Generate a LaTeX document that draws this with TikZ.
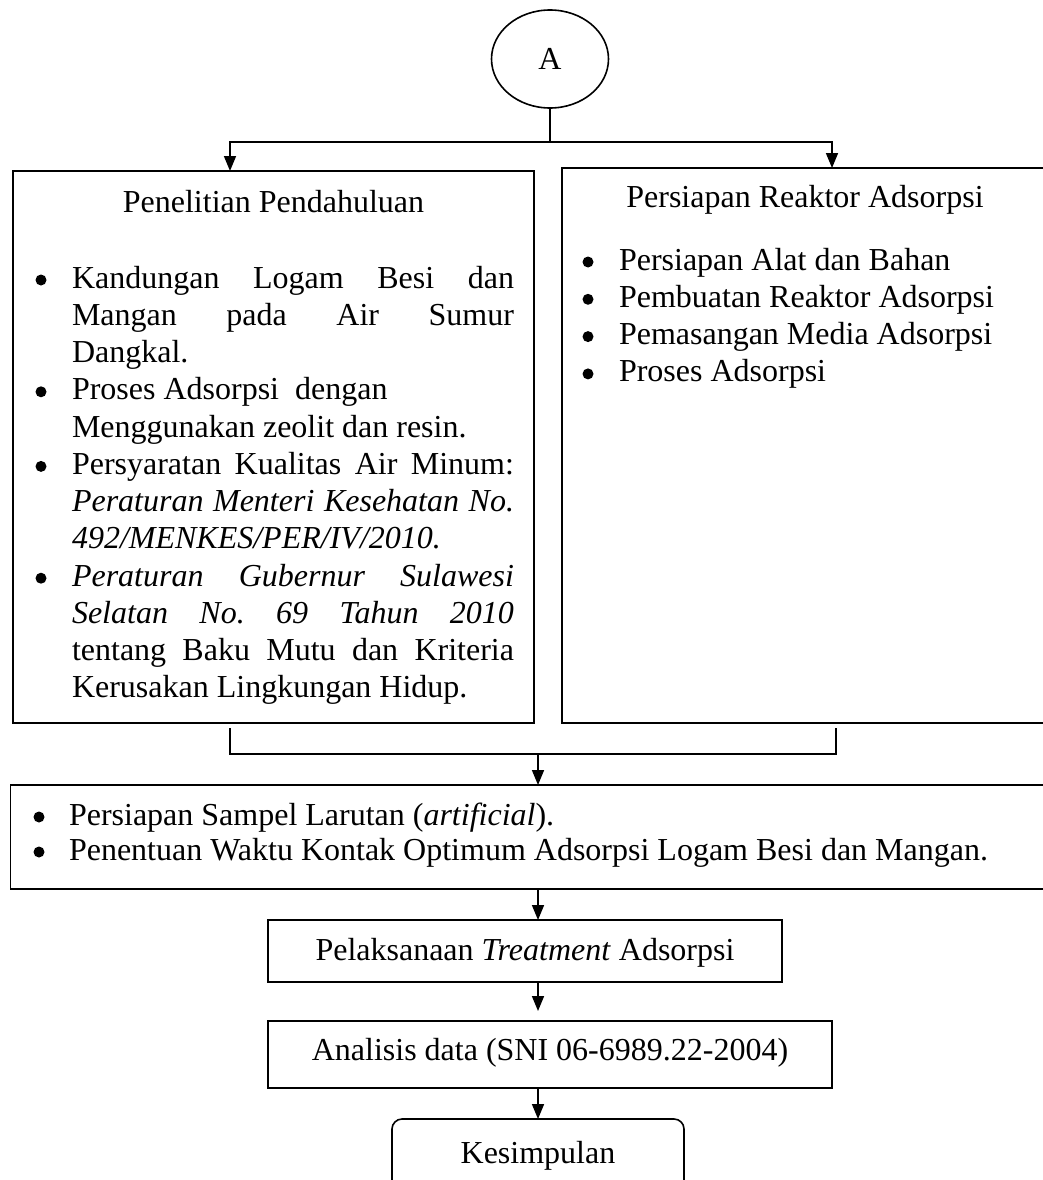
\documentclass[tikz,border=0pt]{standalone}
\usepackage{fontspec}
\setmainfont{Liberation Serif}
\usetikzlibrary{arrows.meta,shapes.geometric}
\newcommand{\jl}[1]{\makebox[442pt][s]{#1}}
\frenchspacing
\begin{document}
\frenchspacing
\begin{tikzpicture}[x=1pt,y=-1pt,
  every node/.style={font=\fontsize{32}{37.27}\selectfont, inner sep=0pt, outer sep=0pt},
  box/.style={draw, rectangle, line width=1.6pt},
  rbox/.style={draw, rectangle, rounded corners=10pt, line width=1.6pt},
  conn/.style={line width=1.6pt},
  arr/.style={line width=1.6pt, -{Triangle[length=15pt,width=12pt]}},
  txt/.style={anchor=base},
  ltxt/.style={anchor=base west},
  dot/.style={circle, fill, minimum size=11pt}
]
\useasboundingbox (0,0) rectangle (1043,1180);
\clip (0,0) rectangle (1043,1180);

% start connector
\node[draw, ellipse, line width=1.6pt, minimum width=117pt, minimum height=98pt] (A) at (550,59) {A};

% boxes
\node[box, minimum width=521pt, minimum height=552pt] (L) at (273.5,447) {};
\node[box, minimum width=490pt, minimum height=555pt] (R) at (807,445.5) {};
\node[box, minimum width=1045pt, minimum height=104pt] (S) at (533,837) {};
\node[box, minimum width=514pt, minimum height=62pt] (T) at (525,951) {};
\node[box, minimum width=564pt, minimum height=67pt] (D) at (550,1054.5) {};
\node[rbox, minimum width=292pt, minimum height=80pt] (K) at (538,1159) {};

% left box text
\node[txt] (Ltitle) at (273.5,212) {Penelitian Pendahuluan};
\node[dot] (lb1) at (41,280) {};
\node[dot] (lb2) at (41,391.8) {};
\node[dot] (lb3) at (41,466.4) {};
\node[dot] (lb4) at (41,578.2) {};
\node[ltxt] (Ltext) at (72,288) {\parbox[t]{442pt}{\fontsize{32}{37.27}\selectfont\frenchspacing
\jl{Kandungan Logam Besi dan}\\
\jl{Mangan pada Air Sumur}\\
Dangkal.\\
Proses Adsorpsi\ \ dengan\\
Menggunakan zeolit dan resin.\\
\jl{Persyaratan Kualitas Air Minum:}\\
\jl{\itshape Peraturan Menteri Kesehatan No.}\\
\textit{492/MENKES/PER/IV/2010.}\\
\jl{\itshape Peraturan Gubernur Sulawesi}\\
\jl{\itshape Selatan No. 69 Tahun 2010}\\
\jl{tentang Baku Mutu dan Kriteria}\\
Kerusakan Lingkungan Hidup.}};

% right box text
\node[txt] (Rtitle) at (805,207) {Persiapan Reaktor Adsorpsi};
\node[dot] (rb1) at (588,262) {};
\node[dot] (rb2) at (588,299.3) {};
\node[dot] (rb3) at (588,336.6) {};
\node[dot] (rb4) at (588,373.9) {};
\node[ltxt] (Rtext) at (619,270) {\parbox[t]{420pt}{\fontsize{32}{37.3}\selectfont
Persiapan Alat dan Bahan\\
Pembuatan Reaktor Adsorpsi\\
Pemasangan Media Adsorpsi\\
Proses Adsorpsi}};

% sample box text
\node[dot] (sb1) at (39,817) {};
\node[dot] (sb2) at (39,852) {};
\node[ltxt] (Stext) at (69,825) {\parbox[t]{960pt}{\fontsize{32}{35}\selectfont
Persiapan Sampel Larutan (\textit{artificial}).\\
Penentuan Waktu Kontak Optimum Adsorpsi Logam Besi dan Mangan.}};

\node[txt] (Ttext) at (525,960) {Pelaksanaan \textit{Treatment} Adsorpsi};
\node[txt] (Dtext) at (550,1060) {Analisis data (SNI 06-6989.22-2004)};
\node[txt] (Ktext) at (538,1163) {Kesimpulan};

% connectors
\coordinate (j1) at (550,142);
\coordinate (Lin) at (230,171);
\coordinate (Rin) at (832,168);
\draw[conn] (A.south) -- (j1);
\draw[arr] (j1) -| (Lin);
\draw[arr] (j1) -| (Rin);

\coordinate (Lout) at (230,728);
\coordinate (Rout) at (836,728);
\coordinate (j2) at (538,754);
\draw[conn] (Lout) |- (j2) -| (Rout);
\draw[arr] (j2) -- (S.north -| j2);
\draw[arr] (S.south -| j2) -- (T.north -| j2);
\coordinate (Din) at (538,1011);
\draw[arr] (T.south -| j2) -- (Din);
\draw[arr] (D.south -| j2) -- (K.north -| j2);
\end{tikzpicture}
\end{document}
